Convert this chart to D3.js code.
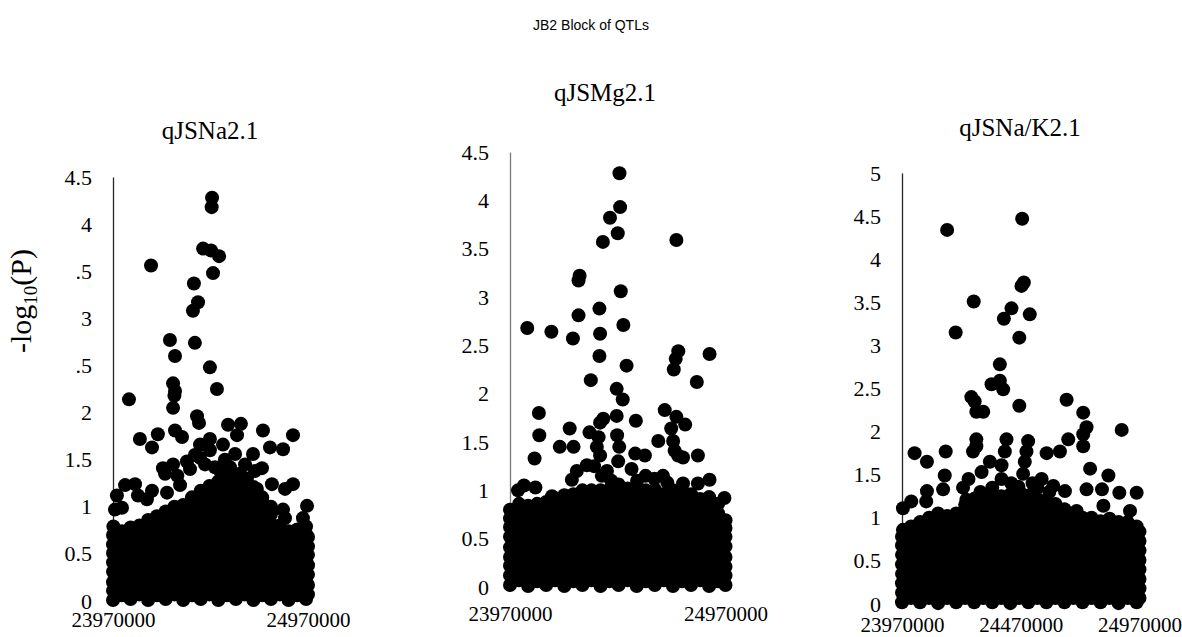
<!DOCTYPE html>
<html>
<head>
<meta charset="utf-8">
<script src="https://cdn.jsdelivr.net/npm/d3@7"></script>
<style>
  body { margin: 0; background: #fff; }
  svg { display: block; }
</style>
</head>
<body>
<svg id="chart" width="1182" height="637"></svg>
<script>
// ---------------------------------------------------------------
// JB2 block: -log10(P) of SNPs across 23.97-24.97 Mb for three QTLs
// Positions are stored in kb, values are -log10(P)
// ---------------------------------------------------------------
const chartTitle = "JB2 Block of QTLs";
const panelTitles = ["qJSNa2.1", "qJSMg2.1", "qJSNa/K2.1"];
const yAxisTitle = "-log";
const yAxisTitleSub = "10";
const yAxisTitleEnd = "(P)";

const xTicksNa = [23970000, 24970000];
const xTicksMg = [23970000, 24970000];
const xTicksNaK = [23970000, 24470000, 24970000];
const xDomain = [23970000, 24970000];

const yTicksNa = [0, 0.5, 1, 1.5, 2, 2.5, 3, 3.5, 4, 4.5];
const yTicksMg = [0, 0.5, 1, 1.5, 2, 2.5, 3, 3.5, 4, 4.5];
const yTicksNaK = [0, 0.5, 1, 1.5, 2, 2.5, 3, 3.5, 4, 4.5, 5];

// qJSNa2.1 — bulk of SNPs, grouped by position [kb, [values]]
const naBulk = [
  [23970, [0.01, 0.11, 0.20, 0.31, 0.41, 0.51, 0.60, 0.70]],
  [24015, [0.06, 0.16, 0.26, 0.35, 0.46, 0.56, 0.65, 0.74]],
  [24060, [0.02, 0.12, 0.21, 0.31, 0.42, 0.52, 0.61, 0.71, 0.78]],
  [24105, [0.07, 0.16, 0.26, 0.37, 0.47, 0.56, 0.66, 0.75, 0.80]],
  [24150, [0.01, 0.11, 0.22, 0.32, 0.41, 0.51, 0.62, 0.72, 0.81, 0.86]],
  [24195, [0.06, 0.17, 0.27, 0.36, 0.46, 0.57, 0.67, 0.76, 0.86, 0.90]],
  [24240, [0.02, 0.12, 0.21, 0.31, 0.42, 0.52, 0.61, 0.71, 0.82, 0.91, 0.95]],
  [24285, [0.07, 0.16, 0.26, 0.37, 0.47, 0.56, 0.66, 0.77, 0.87, 0.96, 1.00]],
  [24330, [0.01, 0.11, 0.22, 0.32, 0.41, 0.51, 0.62, 0.72, 0.81, 0.91, 1.02]],
  [24375, [0.06, 0.17, 0.27, 0.36, 0.46, 0.57, 0.67, 0.76, 0.86, 0.97, 1.07, 1.10]],
  [24420, [0.02, 0.12, 0.21, 0.31, 0.42, 0.52, 0.61, 0.71, 0.82, 0.92, 1.01, 1.12, 1.17]],
  [24465, [0.07, 0.16, 0.26, 0.37, 0.47, 0.56, 0.66, 0.77, 0.87, 0.96, 1.06, 1.17, 1.22]],
  [24510, [0.01, 0.11, 0.22, 0.32, 0.41, 0.51, 0.62, 0.72, 0.81, 0.91, 1.02, 1.12, 1.22, 1.27]],
  [24555, [0.06, 0.17, 0.27, 0.36, 0.46, 0.57, 0.67, 0.76, 0.86, 0.97, 1.07, 1.16, 1.26, 1.31]],
  [24600, [0.02, 0.12, 0.21, 0.31, 0.42, 0.52, 0.61, 0.71, 0.82, 0.92, 1.01, 1.11, 1.21, 1.30]],
  [24645, [0.07, 0.16, 0.26, 0.37, 0.47, 0.56, 0.66, 0.77, 0.87, 0.96, 1.06, 1.17, 1.26]],
  [24690, [0.01, 0.11, 0.22, 0.32, 0.41, 0.51, 0.62, 0.72, 0.81, 0.91, 1.02, 1.12, 1.21]],
  [24735, [0.06, 0.17, 0.27, 0.36, 0.46, 0.57, 0.67, 0.76, 0.86, 0.97, 1.06, 1.10]],
  [24780, [0.02, 0.12, 0.21, 0.31, 0.42, 0.52, 0.61, 0.71, 0.82, 0.92, 1.00]],
  [24825, [0.07, 0.16, 0.26, 0.37, 0.47, 0.56, 0.66, 0.75, 0.80]],
  [24870, [0.01, 0.11, 0.22, 0.32, 0.41, 0.51, 0.62, 0.70, 0.74]],
  [24915, [0.06, 0.17, 0.27, 0.36, 0.46, 0.57, 0.66, 0.76]],
  [24960, [0.02, 0.12, 0.21, 0.31, 0.42, 0.52, 0.61, 0.71, 0.79]],
  [24970, [0.07, 0.17, 0.28, 0.38, 0.49, 0.58, 0.68]]
];
// qJSNa2.1 — SNPs above the bulk [kb, value]
const naPeaks = [
  [24478, 4.28], [24476, 4.18], [24432, 3.74], [24473, 3.72], [24514, 3.66],
  [24165, 3.56], [24483, 3.48], [24385, 3.37], [24406, 3.17], [24380, 3.08],
  [24390, 2.74], [24262, 2.77], [24288, 2.60], [24467, 2.48], [24278, 2.31],
  [24288, 2.23], [24503, 2.25], [24285, 2.18], [24278, 2.05], [24052, 2.14],
  [24401, 1.96], [24411, 1.89], [24288, 1.81], [24324, 1.74], [24108, 1.72],
  [24200, 1.77], [24170, 1.63], [24560, 1.87], [24626, 1.88], [24606, 1.76],
  [24739, 1.81], [24893, 1.76], [24842, 1.61], [24775, 1.63], [24534, 1.66],
  [24416, 1.66], [24467, 1.72], [24688, 1.56], [24596, 1.56], [24226, 1.41],
  [24278, 1.45], [24349, 1.48], [24416, 1.52], [24734, 1.41], [24785, 1.24],
  [24893, 1.24], [24852, 1.19], [23990, 1.12], [24032, 1.23], [24083, 1.24],
  [24098, 1.12], [24170, 1.17], [24144, 1.08], [24965, 1.01], [24842, 0.97],
  [24852, 0.88], [24944, 0.88], [23980, 0.97], [24016, 0.99], [23972, 0.79],
  [24247, 1.15], [24314, 1.23], [24432, 1.15], [24519, 1.23], [24585, 1.15],
  [24657, 1.30], [24708, 1.19], [24237, 1.35], [24365, 1.40], [24442, 1.45],
  [24493, 1.42], [24544, 1.50], [24647, 1.45], [24698, 1.38], [24621, 1.35],
  [24467, 1.60], [24390, 1.55], [24520, 1.38], [24570, 1.42], [24300, 1.33]
];

// qJSMg2.1 — bulk of SNPs [kb, [values]]
const mgBulk = [
  [23970, [0.02, 0.12, 0.22, 0.31, 0.41, 0.52, 0.62, 0.71, 0.80]],
  [24012, [0.07, 0.16, 0.26, 0.37, 0.47, 0.56, 0.66, 0.76, 0.86]],
  [24054, [0.01, 0.11, 0.22, 0.32, 0.41, 0.51, 0.62, 0.72, 0.81, 0.84]],
  [24096, [0.06, 0.17, 0.27, 0.36, 0.46, 0.57, 0.67, 0.76, 0.86]],
  [24138, [0.02, 0.12, 0.21, 0.31, 0.42, 0.52, 0.61, 0.71, 0.82, 0.88]],
  [24180, [0.07, 0.16, 0.26, 0.37, 0.47, 0.56, 0.66, 0.77, 0.87, 0.91]],
  [24222, [0.01, 0.11, 0.22, 0.32, 0.41, 0.51, 0.62, 0.72, 0.81, 0.91, 0.95]],
  [24264, [0.06, 0.17, 0.27, 0.36, 0.46, 0.57, 0.67, 0.76, 0.86, 0.96]],
  [24306, [0.02, 0.12, 0.21, 0.31, 0.42, 0.52, 0.61, 0.71, 0.82, 0.92, 1.00]],
  [24348, [0.07, 0.16, 0.26, 0.37, 0.47, 0.56, 0.66, 0.77, 0.87, 0.96, 1.00]],
  [24390, [0.01, 0.11, 0.22, 0.32, 0.41, 0.51, 0.62, 0.72, 0.81, 0.91, 1.00]],
  [24432, [0.06, 0.17, 0.27, 0.36, 0.46, 0.57, 0.67, 0.76, 0.86, 0.97, 1.01]],
  [24474, [0.02, 0.12, 0.21, 0.31, 0.42, 0.52, 0.61, 0.71, 0.82, 0.92, 1.02, 1.06]],
  [24516, [0.07, 0.16, 0.26, 0.37, 0.47, 0.56, 0.66, 0.77, 0.87, 0.96, 1.02]],
  [24558, [0.01, 0.11, 0.22, 0.32, 0.41, 0.51, 0.62, 0.72, 0.81, 0.91, 1.00]],
  [24600, [0.06, 0.17, 0.27, 0.36, 0.46, 0.57, 0.67, 0.76, 0.86, 0.97, 1.00]],
  [24642, [0.02, 0.12, 0.21, 0.31, 0.42, 0.52, 0.61, 0.71, 0.82, 0.92, 1.01]],
  [24684, [0.07, 0.16, 0.26, 0.37, 0.47, 0.56, 0.66, 0.77, 0.87, 0.96]],
  [24726, [0.01, 0.11, 0.22, 0.32, 0.41, 0.51, 0.62, 0.72, 0.81, 0.91, 1.00]],
  [24768, [0.06, 0.17, 0.27, 0.36, 0.46, 0.57, 0.67, 0.76, 0.86, 0.97, 1.00]],
  [24810, [0.02, 0.12, 0.21, 0.31, 0.42, 0.52, 0.61, 0.71, 0.82, 0.92, 0.96]],
  [24852, [0.07, 0.16, 0.26, 0.37, 0.47, 0.56, 0.66, 0.77, 0.87, 0.91]],
  [24894, [0.01, 0.11, 0.22, 0.32, 0.41, 0.51, 0.62, 0.72, 0.81, 0.91, 0.93]],
  [24936, [0.06, 0.17, 0.27, 0.36, 0.46, 0.57, 0.67, 0.76, 0.86]],
  [24970, [0.02, 0.12, 0.21, 0.31, 0.42, 0.52, 0.61, 0.69]]
];
// qJSMg2.1 — SNPs above the bulk [kb, value]
const mgPeaks = [
  [24478, 4.28], [24481, 3.93], [24434, 3.82], [24470, 3.66], [24401, 3.57],
  [24742, 3.59], [24293, 3.22], [24288, 3.17], [24484, 3.06], [24385, 2.88],
  [24288, 2.81], [24050, 2.68], [24162, 2.64], [24262, 2.57], [24496, 2.71],
  [24388, 2.62], [24385, 2.39], [24511, 2.29], [24751, 2.44], [24739, 2.36],
  [24730, 2.25], [24896, 2.41], [24837, 2.12], [24345, 2.14], [24465, 2.05],
  [24493, 1.94], [24104, 1.80], [24106, 1.57], [24084, 1.33], [24201, 1.45],
  [24247, 1.64], [24265, 1.45], [24339, 1.60], [24388, 1.70], [24403, 1.74],
  [24465, 1.77], [24554, 1.72], [24467, 1.57], [24477, 1.45], [24472, 1.30],
  [24551, 1.38], [24596, 1.36], [24688, 1.83], [24742, 1.76], [24783, 1.68],
  [24718, 1.64], [24727, 1.51], [24658, 1.51], [24734, 1.41], [24750, 1.36],
  [24773, 1.34], [24842, 1.36], [24381, 1.55], [24373, 1.45], [24388, 1.36],
  [24396, 1.15], [24327, 1.26], [24280, 1.20], [24257, 1.11], [24534, 1.22],
  [24599, 1.15], [24680, 1.15], [24773, 1.07], [24842, 1.07], [24896, 1.11],
  [24088, 1.03], [24035, 1.05], [24007, 1.00], [23973, 0.79], [24165, 0.94],
  [24965, 0.92], [24360, 1.25], [24420, 1.20], [24440, 1.10], [24560, 1.10],
  [24640, 1.12], [24700, 1.08]
];

// qJSNa/K2.1 — bulk of SNPs [kb, [values]]
const nakBulk = [
  [23970, [0.02, 0.13, 0.24, 0.35, 0.46, 0.57, 0.68, 0.78]],
  [24008, [0.07, 0.18, 0.29, 0.40, 0.51, 0.62, 0.73, 0.84, 0.90]],
  [24046, [0.02, 0.13, 0.24, 0.36, 0.46, 0.57, 0.68, 0.79, 0.89, 0.95]],
  [24084, [0.07, 0.18, 0.29, 0.40, 0.51, 0.62, 0.74, 0.84, 0.95, 1.00]],
  [24122, [0.01, 0.13, 0.24, 0.35, 0.46, 0.57, 0.68, 0.79, 0.90, 1.01, 1.05]],
  [24160, [0.07, 0.18, 0.28, 0.40, 0.51, 0.62, 0.73, 0.84, 0.95, 1.02]],
  [24198, [0.02, 0.13, 0.24, 0.35, 0.46, 0.56, 0.68, 0.79, 0.90, 1.01, 1.05]],
  [24236, [0.07, 0.18, 0.29, 0.40, 0.51, 0.62, 0.73, 0.85, 0.95, 1.06, 1.15]],
  [24274, [0.02, 0.13, 0.24, 0.35, 0.46, 0.57, 0.68, 0.79, 0.90, 1.01, 1.12, 1.22]],
  [24312, [0.07, 0.18, 0.29, 0.41, 0.51, 0.62, 0.73, 0.84, 0.95, 1.06, 1.17, 1.26]],
  [24350, [0.02, 0.13, 0.24, 0.35, 0.45, 0.57, 0.68, 0.79, 0.90, 1.01, 1.12, 1.21]],
  [24388, [0.07, 0.18, 0.29, 0.40, 0.51, 0.62, 0.73, 0.84, 0.96, 1.06, 1.17, 1.25]],
  [24426, [0.01, 0.13, 0.24, 0.35, 0.46, 0.57, 0.68, 0.79, 0.90, 1.01, 1.12, 1.23, 1.27]],
  [24464, [0.07, 0.18, 0.29, 0.40, 0.51, 0.63, 0.73, 0.84, 0.95, 1.06, 1.17, 1.28, 1.31]],
  [24502, [0.02, 0.13, 0.24, 0.35, 0.46, 0.57, 0.68, 0.79, 0.90, 1.01, 1.12, 1.23, 1.26]],
  [24540, [0.07, 0.18, 0.29, 0.40, 0.51, 0.62, 0.73, 0.84, 0.95, 1.06, 1.17, 1.22]],
  [24578, [0.02, 0.13, 0.23, 0.35, 0.46, 0.57, 0.68, 0.79, 0.90, 1.01, 1.12, 1.20]],
  [24616, [0.07, 0.18, 0.29, 0.40, 0.51, 0.62, 0.73, 0.84, 0.95, 1.06, 1.16]],
  [24654, [0.02, 0.13, 0.24, 0.35, 0.46, 0.57, 0.67, 0.79, 0.90, 1.01, 1.10]],
  [24692, [0.07, 0.18, 0.29, 0.40, 0.51, 0.62, 0.73, 0.84, 0.95, 1.05]],
  [24730, [0.02, 0.13, 0.24, 0.35, 0.46, 0.57, 0.68, 0.79, 0.90, 1.00]],
  [24768, [0.07, 0.18, 0.29, 0.40, 0.52, 0.62, 0.73, 0.84, 0.95, 1.00]],
  [24806, [0.02, 0.13, 0.24, 0.35, 0.46, 0.57, 0.68, 0.79, 0.90, 0.96]],
  [24844, [0.07, 0.18, 0.29, 0.40, 0.51, 0.62, 0.73, 0.84, 0.95, 0.99]],
  [24882, [0.01, 0.13, 0.24, 0.35, 0.46, 0.57, 0.68, 0.79, 0.90, 0.95]],
  [24920, [0.07, 0.18, 0.29, 0.40, 0.51, 0.62, 0.73, 0.84, 0.95]],
  [24958, [0.02, 0.13, 0.24, 0.35, 0.46, 0.57, 0.68, 0.79, 0.90]],
  [24970, [0.07, 0.18, 0.29, 0.40, 0.51, 0.62, 0.73, 0.84]]
];
// qJSNa/K2.1 — SNPs above the bulk [kb, value]
const nakPeaks = [
  [24160, 4.34], [24476, 4.47], [24473, 3.69], [24483, 3.73], [24272, 3.51],
  [24431, 3.43], [24399, 3.31], [24508, 3.36], [24196, 3.15], [24464, 3.09],
  [24382, 2.78], [24347, 2.55], [24382, 2.59], [24396, 2.49], [24262, 2.40],
  [24276, 2.35], [24283, 2.23], [24312, 2.23], [24464, 2.30], [24663, 2.37],
  [24733, 2.22], [24747, 2.05], [24733, 1.97], [24733, 1.83], [24895, 2.02],
  [24670, 1.91], [24635, 1.77], [24579, 1.75], [24283, 1.91], [24283, 1.83],
  [24269, 1.77], [24410, 1.91], [24403, 1.77], [24501, 1.89], [24494, 1.77],
  [24487, 1.65], [24480, 1.51], [24389, 1.61], [24389, 1.45], [24340, 1.65],
  [24305, 1.53], [24023, 1.75], [24075, 1.65], [24154, 1.77], [24150, 1.49],
  [24143, 1.33], [24075, 1.31], [24762, 1.57], [24747, 1.33], [24839, 1.49],
  [24812, 1.33], [24885, 1.29], [24958, 1.29], [24558, 1.45], [24656, 1.31],
  [24607, 1.37], [23974, 1.11], [24009, 1.19], [24072, 1.19], [24227, 1.35],
  [24241, 1.21], [24326, 1.19], [24930, 1.08], [24705, 1.08], [24818, 1.14],
  [23974, 0.86], [24300, 1.30], [24350, 1.35], [24430, 1.40], [24460, 1.36],
  [24540, 1.35], [24590, 1.30], [24250, 1.45], [24520, 1.40]
];

// ---------------------------------------------------------------
const svg = d3.select("#chart");
const serif = "'Liberation Serif', 'Times New Roman', serif";

const panels = [
  { bulk: naBulk, peaks: naPeaks, xTicks: xTicksNa, yTicks: yTicksNa,
    frame: { x0: 113, x1: 308, y0: 601, y1: 177, labelPad: 11, axisColor: "#262626" },
    titlePos: [210, 139] },
  { bulk: mgBulk, peaks: mgPeaks, xTicks: xTicksMg, yTicks: yTicksMg,
    frame: { x0: 510, x1: 725.5, y0: 587, y1: 152, labelPad: 19, axisColor: "#7a7a7a" },
    titlePos: [605, 101] },
  { bulk: nakBulk, peaks: nakPeaks, xTicks: xTicksNaK, yTicks: yTicksNaK,
    frame: { x0: 902, x1: 1139.5, y0: 604, y1: 173, labelPad: 13, axisColor: "#262626" },
    titlePos: [1020, 136] }
];

// chart title
svg.append("text")
  .attr("x", 591).attr("y", 30)
  .attr("text-anchor", "middle")
  .attr("font-family", "'Liberation Sans', Arial, sans-serif")
  .attr("font-size", 14)
  .attr("fill", "#000")
  .text(chartTitle);

panels.forEach((p, i) => {
  const f = p.frame;
  const yMax = d3.max(p.yTicks);
  const x = d3.scaleLinear().domain(xDomain).range([f.x0, f.x1]);
  const y = d3.scaleLinear().domain([0, yMax]).range([f.y0, f.y1]);

  const g = svg.append("g");

  // panel title
  g.append("text")
    .attr("x", p.titlePos[0]).attr("y", p.titlePos[1])
    .attr("text-anchor", "middle")
    .attr("font-family", serif)
    .attr("font-size", 25)
    .text(panelTitles[i]);

  // y axis: vertical line and value labels
  const yAxis = g.append("g")
    .attr("transform", `translate(${f.x0},0)`)
    .call(d3.axisLeft(y).tickValues(p.yTicks).tickSize(0).tickSizeOuter(0)
      .tickPadding(21).tickFormat(d3.format("")))
    .attr("font-family", serif)
    .attr("font-size", 22);
  yAxis.select(".domain").attr("stroke", f.axisColor).attr("stroke-width", 1.3);
  yAxis.selectAll("text").attr("fill", "#000");

  // x axis labels only
  const xAxis = g.append("g")
    .attr("transform", `translate(0,${f.y0})`)
    .call(d3.axisBottom(x).tickValues(p.xTicks).tickSize(0).tickSizeOuter(0)
      .tickPadding(f.labelPad).tickFormat(d3.format("d")))
    .attr("font-family", serif)
    .attr("font-size", 21);
  xAxis.select(".domain").remove();
  xAxis.selectAll("text").attr("fill", "#000");

  // SNP points
  const pts = [];
  p.bulk.forEach(([kb, vals]) => vals.forEach(v => pts.push([kb, v])));
  p.peaks.forEach(d => pts.push(d));
  g.append("g").selectAll("circle")
    .data(pts)
    .join("circle")
    .attr("cx", d => x(d[0] * 1000))
    .attr("cy", d => y(d[1]))
    .attr("r", 7)
    .attr("fill", "#000");
});

// shared y-axis title on a white backing
svg.append("rect")
  .attr("x", 0).attr("y", 236)
  .attr("width", 77).attr("height", 146)
  .attr("fill", "#fff");
const yt = svg.append("text")
  .attr("transform", "translate(31,301) rotate(-90)")
  .attr("text-anchor", "middle")
  .attr("font-family", serif)
  .attr("font-size", 30)
  .attr("fill", "#000");
yt.append("tspan").text(yAxisTitle);
yt.append("tspan").attr("dy", 6).attr("font-size", 19).text(yAxisTitleSub);
yt.append("tspan").attr("dy", -6).text(yAxisTitleEnd);
</script>
</body>
</html>
